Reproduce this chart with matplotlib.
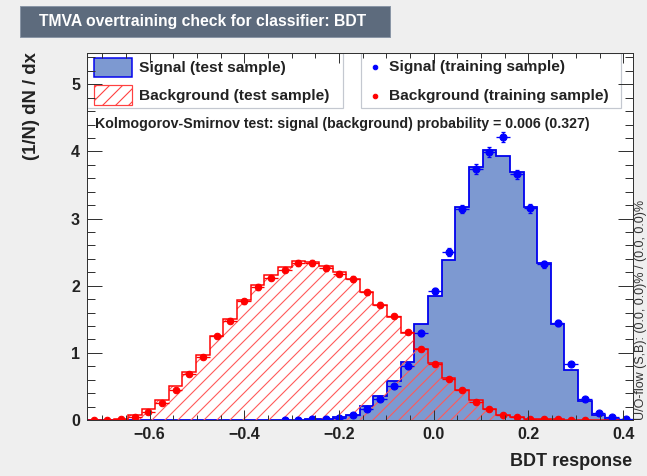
import numpy as np
import matplotlib
matplotlib.use("Agg")
import matplotlib.pyplot as plt
from matplotlib.patches import Rectangle
from matplotlib.lines import Line2D
from matplotlib.ticker import MultipleLocator

########### Layout ###########

W, H = 647, 476
DPI = 78   # at 78 dpi the '//' hatch comes out ~13 px apart

def pt(p):
    # pixels -> points
    return p * 72.0 / DPI

def fx(x):
    return x / W

def fy(y):
    return 1 - y / H

########### Histogram contents (40 bins) ###########

xmin, xmax, nbins = -0.732, 0.420, 40

sig_test = [0, 0, 0, 0, 0, 0, 0, 0, 0, 0,
            0, 0, 0, 0, 0.004, 0.006, 0.01, 0.02, 0.04, 0.08,
            0.21, 0.35, 0.58, 0.87, 1.43, 1.84, 2.38, 3.17, 3.77, 4.02,
            3.93, 3.70, 3.17, 2.34, 1.43, 0.74, 0.29, 0.07, 0.02, 0.005]

bkg_test = [0.003, 0.005, 0.02, 0.07, 0.16, 0.30, 0.50, 0.71, 0.97, 1.25,
            1.51, 1.79, 2.01, 2.16, 2.28, 2.37, 2.35, 2.29, 2.21, 2.10,
            1.91, 1.71, 1.54, 1.29, 1.05, 0.85, 0.62, 0.45, 0.30, 0.16,
            0.08, 0.04, 0.02, 0.01, 0.008, 0.005, 0.003, 0, 0, 0]

sig_train = [0, 0, 0, 0, 0, 0, 0, 0, 0, 0,
             0, 0, 0, 0, 0.003, 0.005, 0.008, 0.015, 0.03, 0.07,
             0.16, 0.31, 0.51, 0.81, 1.29, 1.92, 2.50, 3.14, 3.74, 3.99,
             4.22, 3.66, 3.15, 2.32, 1.44, 0.83, 0.31, 0.11, 0.04, 0.01]

bkg_train = [0.003, 0.004, 0.015, 0.05, 0.12, 0.26, 0.44, 0.68, 0.94, 1.25,
             1.48, 1.77, 1.98, 2.12, 2.24, 2.34, 2.34, 2.26, 2.18, 2.10,
             1.90, 1.72, 1.55, 1.31, 1.06, 0.84, 0.61, 0.45, 0.27, 0.16,
             0.07, 0.04, 0.02, 0.01, 0.01, 0.005, 0.003, 0, 0, 0]

# effective statistics for the Poisson error bars
neff_sig = 770.0
neff_bkg = 1250.0

ks_text = "Kolmogorov-Smirnov test: signal (background) probability = 0.006 (0.327)"
uoflow_text = "U/O-flow (S,B): (0.0, 0.0)% / (0.0, 0.0)%"

sig_fill = "#7d99d1"
sig_line = "#0000ee"
bkg_line = "#ff0000"
txt_col = "#222222"

plt.rcParams['font.family'] = ['Liberation Sans', 'DejaVu Sans']
plt.rcParams['hatch.linewidth'] = pt(1.1)

fig = plt.figure(figsize=(W / DPI, H / DPI), dpi=DPI, facecolor="#efefef")

# title box
fig.patches.append(Rectangle((fx(20), fy(37)), fx(390) - fx(20), fy(6) - fy(37),
                             transform=fig.transFigure, facecolor="#5d6b7d",
                             edgecolor="#8a96a6", lw=pt(1), zorder=0))
fig.text(fx(39), fy(21.5), "TMVA overtraining check for classifier: BDT",
         color="white", fontsize=pt(15.8), fontweight="bold", ha="left", va="center")

x0, x1, y0, y1 = 87, 632.7, 420, 52.7
ax = fig.add_axes([fx(x0), fy(y0), fx(x1) - fx(x0), fy(y1) - fy(y0)])
ax.set_facecolor("white")
ax.set_axisbelow(False)

edges = np.linspace(xmin, xmax, nbins + 1)
centers = 0.5 * (edges[:-1] + edges[1:])
binw = edges[1] - edges[0]

sig_test = np.array(sig_test)
bkg_test = np.array(bkg_test)
sig_train = np.array(sig_train)
bkg_train = np.array(bkg_train)

# test samples
ax.stairs(sig_test, edges, fill=True, facecolor=sig_fill, lw=0, zorder=1.0)
ax.stairs(sig_test, edges, color=sig_line, lw=pt(1.8), zorder=1.1)
ax.stairs(bkg_test, edges, fill=True, facecolor="none", edgecolor="#ff5a5a",
          hatch="//", lw=0, zorder=1.2)
ax.stairs(bkg_test, edges, color=bkg_line, lw=pt(1.5), zorder=1.3)

# training samples, empty bins are skipped
for vals, neff, col, ms in [(sig_train, neff_sig, "#0000ff", 7),
                            (bkg_train, neff_bkg, "#ff0000", 6.5)]:
    m = vals > 0
    err = np.sqrt(vals[m] / neff)
    ax.errorbar(centers[m], vals[m], xerr=binw / 2, fmt="none", ecolor=col,
                elinewidth=pt(1.3), capsize=0, zorder=2)
    ax.errorbar(centers[m], vals[m], yerr=err, fmt="o", color=col, ms=pt(ms),
                elinewidth=pt(1.3), capsize=pt(2.5), capthick=pt(1.3), zorder=2.1)

ax.set_xlim(xmin, xmax)
ax.set_ylim(0, 5.47)

ax.xaxis.set_major_locator(MultipleLocator(0.2))
ax.xaxis.set_minor_locator(MultipleLocator(0.05))
ax.yaxis.set_major_locator(MultipleLocator(1))
ax.yaxis.set_minor_locator(MultipleLocator(0.2))

ax.tick_params(which="both", direction="in", top=True, right=True,
               color="#333333", width=pt(1))
ax.tick_params(axis="y", which="major", length=pt(15), pad=pt(7))
ax.tick_params(axis="y", which="minor", length=pt(8))
ax.tick_params(axis="x", which="major", length=pt(10), pad=pt(7))
ax.tick_params(axis="x", which="minor", length=pt(5))
ax.tick_params(labelsize=pt(16), labelcolor=txt_col)
for lab in ax.get_xticklabels() + ax.get_yticklabels():
    lab.set_fontweight("bold")
for s in ax.spines.values():
    s.set_color("#333333")
    s.set_linewidth(pt(1))

fig.text(fx(632), fy(461), "BDT response", fontsize=pt(18), fontweight="bold",
         ha="right", va="center", color=txt_col)
fig.text(fx(32), fy(52), "(1/N) dN / dx", fontsize=pt(18.5), fontweight="bold",
         rotation=90, ha="center", va="top", color=txt_col)
fig.text(fx(641), fy(420), uoflow_text, fontsize=pt(12.5), rotation=90,
         ha="center", va="bottom", color="#333333")

########### Legends ###########

box_kw = dict(transform=fig.transFigure, facecolor="white", edgecolor="#c4c8d0",
              lw=pt(1.2), zorder=2.2)
ax.add_patch(Rectangle((fx(87), fy(107.7)), fx(343.3) - fx(87), fy(52.7) - fy(107.7), **box_kw))
ax.add_patch(Rectangle((fx(360.7), fy(107.7)), fx(621) - fx(360.7), fy(52.7) - fy(107.7), **box_kw))

ax.add_patch(Rectangle((fx(94), fy(77)), fx(132) - fx(94), fy(57.7) - fy(77),
                       transform=fig.transFigure, facecolor=sig_fill,
                       edgecolor=sig_line, lw=pt(1.5), zorder=2.3))
ax.add_patch(Rectangle((fx(94), fy(105)), fx(132) - fx(94), fy(85) - fy(105),
                       transform=fig.transFigure, facecolor="white",
                       edgecolor="#ff4040", hatch="//", lw=pt(1.2), zorder=2.3))
ax.add_line(Line2D([fx(375)], [fy(66.7)], transform=fig.transFigure, marker="o",
                   color="#0000ff", ms=pt(4.5), zorder=2.3))
ax.add_line(Line2D([fx(375)], [fy(95.7)], transform=fig.transFigure, marker="o",
                   color="#ff0000", ms=pt(4.5), zorder=2.3))

leg_kw = dict(fontsize=pt(15.5), fontweight="bold", ha="left", va="center",
              color=txt_col)
fig.text(fx(139), fy(67.7), "Signal (test sample)", **leg_kw)
fig.text(fx(139), fy(95.7), "Background (test sample)", **leg_kw)
fig.text(fx(389), fy(66.7), "Signal (training sample)", **leg_kw)
fig.text(fx(389), fy(95.7), "Background (training sample)", **leg_kw)

fig.text(fx(95), fy(124), ks_text, fontsize=pt(14.1), fontweight="bold",
         ha="left", va="center", color=txt_col)

fig.savefig("out.png", dpi=DPI, facecolor=fig.get_facecolor())
